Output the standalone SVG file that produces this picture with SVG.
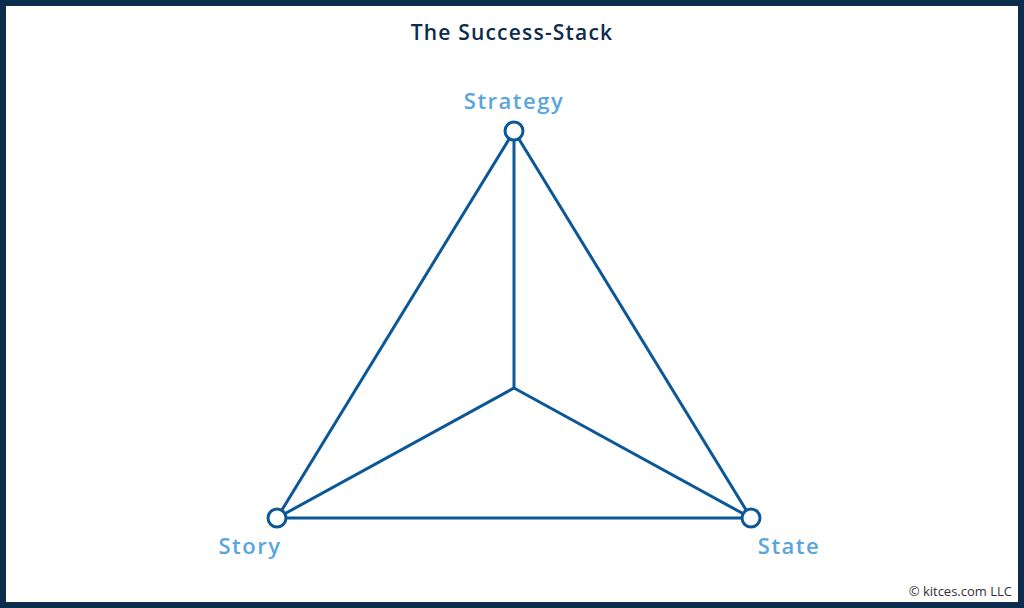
<svg xmlns="http://www.w3.org/2000/svg" width="1024" height="608" viewBox="0 0 1024 608">
<style>
.edge{stroke:#0c5897;stroke-width:3;fill:none;stroke-linecap:round;stroke-linejoin:round}
.node{fill:#ffffff;stroke:#0c5897;stroke-width:3}
.lbl{font-family:"Open Sans","Liberation Sans",sans-serif;font-weight:600;font-size:22px;letter-spacing:1.5px;fill:#5aa6dc}
</style>
<rect x="0" y="0" width="1024" height="608" fill="#ffffff"/>
<rect x="3" y="3" width="1018" height="602" fill="none" stroke="#0c2d4e" stroke-width="6"/>
<text x="512" y="40" text-anchor="middle" font-family="Open Sans, Liberation Sans, sans-serif" font-weight="600" font-size="21" letter-spacing="1.2" fill="#0d2c4f">The Success-Stack</text>
<g id="connectors">
<line class="edge" x1="514" y1="131" x2="277" y2="518"/>
<line class="edge" x1="514" y1="131" x2="751" y2="518"/>
<line class="edge" x1="514" y1="131" x2="514" y2="388"/>
<line class="edge" x1="514" y1="388" x2="277" y2="518"/>
<line class="edge" x1="514" y1="388" x2="751" y2="518"/>
<line class="edge" x1="277" y1="518" x2="751" y2="518"/>
</g>
<g id="strategy">
<circle class="node" cx="514" cy="131" r="9"/>
<text class="lbl" x="514" y="109" text-anchor="middle">Strategy</text>
</g>
<g id="story">
<circle class="node" cx="277" cy="518" r="9"/>
<text class="lbl" x="250" y="554" text-anchor="middle">Story</text>
</g>
<g id="state">
<circle class="node" cx="751" cy="518" r="9"/>
<text class="lbl" x="789" y="554" text-anchor="middle">State</text>
</g>
<text x="1012" y="596" text-anchor="end" font-family="Open Sans, Liberation Sans, sans-serif" font-size="13" fill="#333333">© kitces.com LLC</text>
</svg>
